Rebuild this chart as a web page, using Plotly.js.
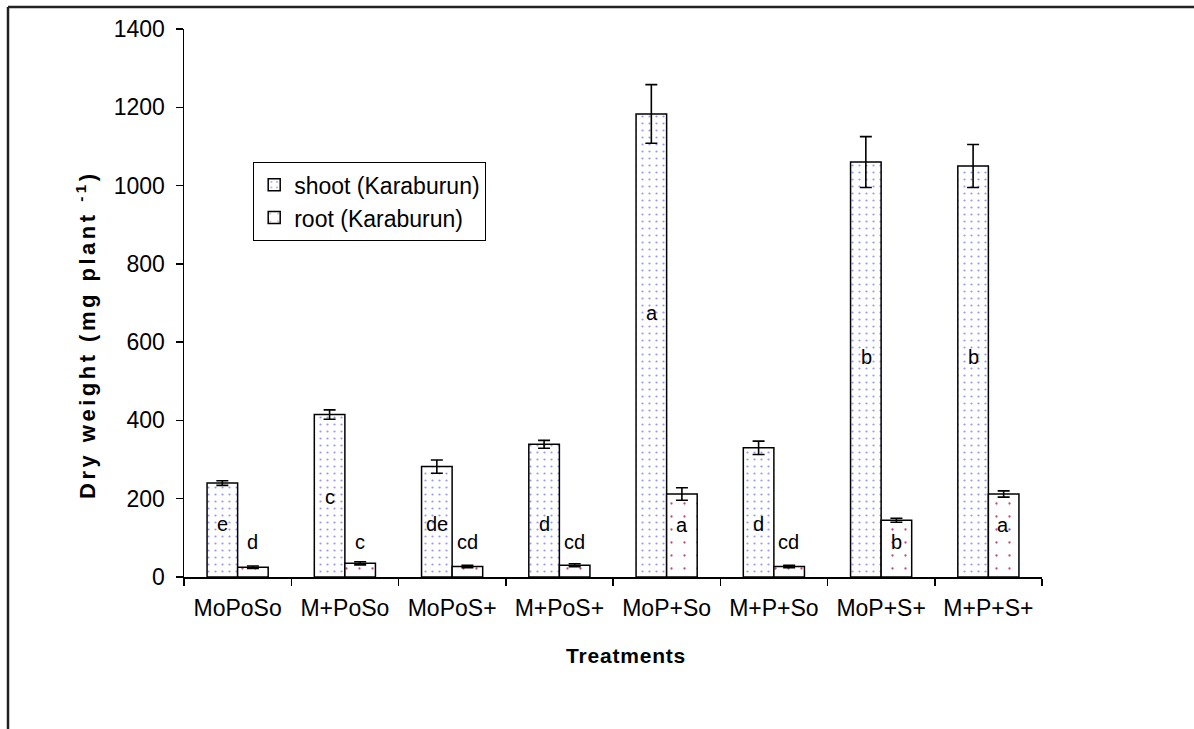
<!DOCTYPE html>
<html>
<head>
<meta charset="utf-8">
<script src="https://cdn.plot.ly/plotly-3.0.1.min.js"></script>
<style>
html,body{margin:0;padding:0;background:#fff;}
#chart{width:1194px;height:729px;}
#chart g.annotation[data-index="17"] text{letter-spacing:3.5px;}
#chart g.annotation[data-index="16"] text{letter-spacing:0.8px;}
</style>
</head>
<body>
<div id="chart"></div>
<script>
// Data
var treatments = ["MoPoSo","M+PoSo","MoPoS+","M+PoS+","MoP+So","M+P+So","MoP+S+","M+P+S+"];
var shootValues = [240, 415, 282, 339, 1183, 330, 1060, 1050];
var shootErrors = [6, 12, 17, 10, 75, 17, 65, 55];
var rootValues  = [25, 35, 27, 30, 212, 27, 145, 212];
var rootErrors  = [3, 4, 3, 4, 16, 3, 5, 8];
var shootLetters = ["e","c","de","d","a","d","b","b"];
var shootLetterY = [135, 204, 135, 135, 674, 135, 562, 562];
var rootLetters  = ["d","c","cd","cd","a","cd","b","a"];
var rootLetterY  = [89, 89, 89, 89, 133, 89, 89, 133];

var FONT = "Arial, 'Liberation Sans', sans-serif";

var shoot = {
  type: "bar", name: "shoot (Karaburun)", x: treatments, y: shootValues,
  marker: {color: "#ffffff", line: {color: "#000", width: 1.5},
    pattern: {shape: ".", fgcolor: "#9a9af2", bgcolor: "#ffffff", size: 7, solidity: 0.08}},
  error_y: {type: "data", array: shootErrors, visible: true, color: "#000", thickness: 1.6, width: 6},
  hoverinfo: "x+y"
};
var root = {
  type: "bar", name: "root (Karaburun)", x: treatments, y: rootValues,
  marker: {color: "#ffffff", line: {color: "#000", width: 1.5},
    pattern: {shape: ".", fgcolor: "#b8507a", bgcolor: "#ffffff", size: 13, solidity: 0.025}},
  error_y: {type: "data", array: rootErrors, visible: true, color: "#000", thickness: 1.6, width: 6},
  hoverinfo: "x+y"
};

var annotations = [];
treatments.forEach(function(t, i){
  annotations.push({x: t, y: shootLetterY[i], xref: "x", yref: "y", text: shootLetters[i],
    showarrow: false, xshift: -15, font: {family: FONT, size: 20, color: "#000"}});
  annotations.push({x: t, y: rootLetterY[i], xref: "x", yref: "y", text: rootLetters[i],
    showarrow: false, xshift: 15, font: {family: FONT, size: 20, color: "#000"}});
});
// axis titles
annotations.push({xref: "paper", yref: "paper", x: (626-184)/858, y: (577-655)/548,
  xanchor: "center", yanchor: "middle",
  text: "<b>Treatments</b>", showarrow: false, font: {family: FONT, size: 21, color: "#000"}});
annotations.push({xref: "paper", yref: "paper", x: (86-184)/858, y: (577-335)/548,
  xanchor: "center", yanchor: "middle",
  text: "<b>Dry weight (mg plant <sup>-1</sup>)</b>", textangle: -90, showarrow: false,
  font: {family: FONT, size: 22, color: "#000"}});

var layout = {
  width: 1194, height: 729,
  margin: {l: 184, r: 152, t: 29, b: 152},
  paper_bgcolor: "#fff", plot_bgcolor: "#fff",
  font: {family: FONT, size: 23, color: "#000"},
  barmode: "group", bargap: 0.43, bargroupgap: 0,
  showlegend: true,
  legend: {x: (253-184)/858, y: (577-162)/548, xanchor: "left", yanchor: "top",
    bgcolor: "#fff", bordercolor: "#000", borderwidth: 1.2,
    font: {family: FONT, size: 23, color: "#000"}, tracegroupgap: 0},
  xaxis: {type: "category", showline: true, linecolor: "#000", linewidth: 1.5,
    ticks: "outside", tickson: "boundaries", ticklen: 7, tickwidth: 1.5, tickcolor: "#000",
    ticklabelstandoff: 10,
    showgrid: false, zeroline: false, tickfont: {family: FONT, size: 23, color: "#000"}},
  yaxis: {range: [0, 1400], dtick: 200, showline: true, linecolor: "#000", linewidth: 1.5,
    ticks: "outside", ticklen: 7, tickwidth: 1.5, tickcolor: "#000",
    ticklabelstandoff: 6,
    showgrid: false, zeroline: false, tickfont: {family: FONT, size: 23, color: "#000"}},
  annotations: annotations,
  shapes: [
    {type: "line", xref: "paper", yref: "paper", x0: (8-184)/858, x1: (8-184)/858,
      y0: (577-760)/548, y1: (577-7)/548, line: {color: "#222", width: 2.5}},
    {type: "line", xref: "paper", yref: "paper", x0: (8-184)/858, x1: (1210-184)/858,
      y0: (577-7)/548, y1: (577-7)/548, line: {color: "#222", width: 2.5}}
  ]
};

Plotly.newPlot("chart", [shoot, root], layout, {displayModeBar: false, staticPlot: true});
</script>
</body>
</html>
